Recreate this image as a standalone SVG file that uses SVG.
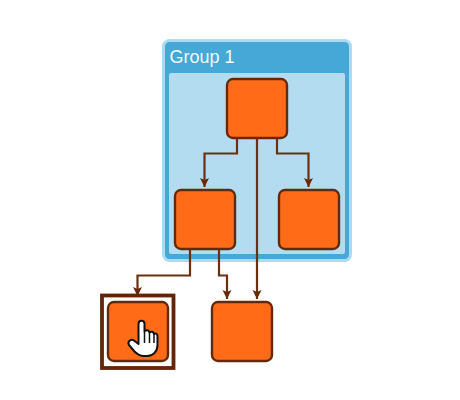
<svg xmlns="http://www.w3.org/2000/svg" width="460" height="400" viewBox="0 0 460 400">
<defs>
<marker id="arrow" markerUnits="userSpaceOnUse" markerWidth="11" markerHeight="10" refX="9" refY="4.500" orient="auto"><path d="M0 0L9 4.500L0 9L2 4.500Z" fill="#63290a"/></marker>
</defs>
<style>
.node{fill:#ff6b17;stroke:#63290a;stroke-width:2.400}
.edge{fill:none;stroke:#6b3010;stroke-width:2.200;marker-end:url(#arrow)}
</style>
<rect width="460" height="400" fill="#fff"/>
<g id="group1">
<rect x="163.500" y="40.500" width="187" height="220" rx="6" fill="#45a8d6" stroke="#a9dcf3" stroke-width="3"/>
<rect x="169" y="73" width="176" height="181" rx="2" fill="#b3dcf0"/>
<text x="169.500" y="63" font-family="'Liberation Sans',Arial,sans-serif" font-size="18" fill="#f1f9fd">Group 1</text>
</g>
<g id="connectors">
<path class="edge" d="M237 138V153.500H204.500V187"/>
<path class="edge" d="M277 138V153.500H308.500V187"/>
<path class="edge" d="M257 138V299"/>
<path class="edge" d="M190 249V275.500H137.500V296"/>
<path class="edge" d="M219 249V275.500H227V299"/>
</g>
<g id="node-top"><rect class="node" x="227" y="79" width="60" height="59" rx="6"/></g>
<g id="node-left"><rect class="node" x="175" y="190" width="60" height="59" rx="6"/></g>
<g id="node-right"><rect class="node" x="279" y="190" width="60" height="59" rx="6"/></g>
<g id="node-selected">
<rect x="102" y="295.500" width="71.500" height="72.500" fill="#fff" stroke="#63240a" stroke-width="3.800"/>
<rect class="node" x="108" y="302" width="60" height="59" rx="6"/>
<path d="M138.500 324C138.500 319.500 144.500 319.500 144.500 324V331.500C146 329.500 149 330 149.500 332.500C151 331 153.500 331.500 154 334C155 333 157.500 333.500 157.500 336V345C157.500 351.500 153 356 147.500 356H143.500C139.500 356 136.500 353.500 134.500 351.500L129 345C127 341.500 131 338.500 134 340.500L138.500 344Z" fill="#fff" stroke="#111" stroke-width="2" stroke-linejoin="round"/>
<path d="M144.500 331.500V343M149.500 332.500V343M154 334V343" fill="none" stroke="#111" stroke-width="1.500"/>
</g>
<g id="node-bottom"><rect class="node" x="212" y="302" width="60" height="59" rx="6"/></g>
</svg>
